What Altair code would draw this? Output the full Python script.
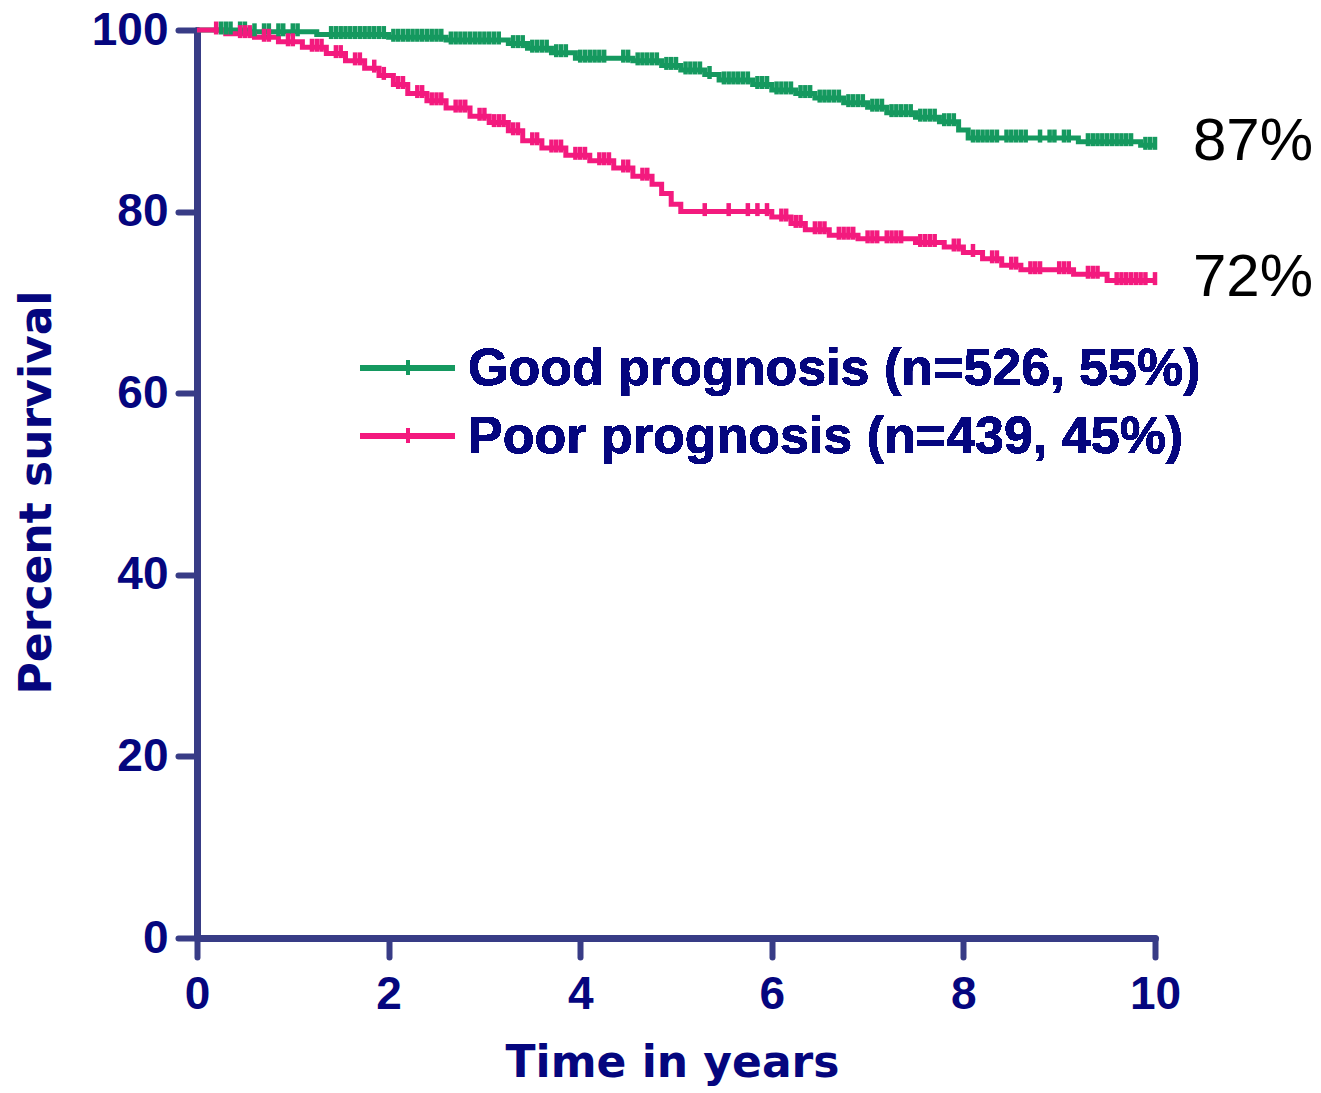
import altair as alt
import numpy as np
import pandas as pd

# ---- data -------------------------------------------------------------
GROUPS = ["Good prognosis", "Poor prognosis"]
GROUP_N = [526, 439]
GROUP_PCT = [55, 45]

# Kaplan-Meier step points (years, percent surviving after the step)
GOOD_T = [0.0, 0.55, 1.25, 2.0, 2.6, 3.25, 3.45, 3.7, 3.95, 4.55, 4.85, 5.05,
          5.3, 5.45, 5.8, 6.0, 6.25, 6.45, 6.75, 7.0, 7.2, 7.5, 7.75, 7.95,
          8.05, 9.2, 9.85, 10.0]
GOOD_S = [100.0, 99.8, 99.5, 99.2, 98.9, 98.5, 98.0, 97.5, 96.9, 96.6, 96.1, 95.6,
          95.1, 94.5, 94.0, 93.4, 93.0, 92.5, 92.0, 91.5, 90.9, 90.4, 89.9, 89.0,
          88.1, 87.7, 87.3, 87.3]

POOR_T = [0.0, 0.3, 0.6, 0.85, 1.1, 1.35, 1.55, 1.75, 1.9, 2.05, 2.2, 2.4, 2.6,
          2.85, 3.05, 3.25, 3.4, 3.6, 3.85, 4.1, 4.35, 4.55, 4.75, 4.85, 4.95,
          5.05, 6.0, 6.2, 6.35, 6.6, 6.9, 7.5, 7.8, 8.0, 8.2, 8.4, 8.6, 9.15,
          9.5, 10.0]
POOR_S = [100.0, 99.6, 99.2, 98.7, 98.1, 97.4, 96.6, 95.8, 95.0, 94.0, 93.0, 92.2,
          91.4, 90.5, 89.8, 88.9, 87.8, 87.0, 86.2, 85.6, 84.8, 83.9, 83.0, 82.0,
          80.8, 80.0, 79.4, 78.7, 78.0, 77.4, 77.0, 76.6, 76.1, 75.5, 74.8, 74.1,
          73.6, 73.1, 72.4, 72.4]

# censored observations (years)
GOOD_CENSOR = [0.25, 0.3, 0.35, 0.45, 0.5, 0.6, 0.7, 0.75, 0.85, 0.9, 1.0, 1.05,
               1.4, 1.45, 1.5, 1.55, 1.6, 1.65, 1.7, 1.75, 1.8, 1.85, 1.9, 1.95,
               2.05, 2.1, 2.15, 2.2, 2.25, 2.3, 2.35, 2.4, 2.45, 2.5, 2.55, 2.65,
               2.7, 2.75, 2.8, 2.85, 2.9, 2.95, 3.0, 3.05, 3.1, 3.15, 3.3, 3.35,
               3.4, 3.5, 3.55, 3.6, 3.65, 3.75, 3.8, 3.85, 4.0, 4.05, 4.1, 4.15,
               4.2, 4.25, 4.45, 4.5, 4.6, 4.65, 4.7, 4.75, 4.8, 4.9, 4.95, 5.0,
               5.1, 5.15, 5.2, 5.25, 5.35, 5.5, 5.55, 5.6, 5.65, 5.7, 5.75, 5.85,
               5.9, 5.95, 6.05, 6.1, 6.15, 6.2, 6.3, 6.35, 6.4, 6.5, 6.55, 6.6,
               6.65, 6.7, 6.8, 6.85, 6.9, 6.95, 7.05, 7.1, 7.15, 7.25, 7.3, 7.35,
               7.4, 7.45, 7.55, 7.6, 7.65, 7.7, 7.8, 7.85, 7.9, 8.1, 8.15, 8.2,
               8.25, 8.3, 8.35, 8.45, 8.5, 8.55, 8.6, 8.65, 8.8, 8.9, 8.95, 9.05,
               9.1, 9.3, 9.35, 9.4, 9.45, 9.5, 9.55, 9.6, 9.65, 9.7, 9.75, 9.9,
               9.95, 10.0]
POOR_CENSOR = [0.2, 0.45, 0.5, 0.55, 0.7, 0.75, 0.95, 1.0, 1.2, 1.25, 1.3, 1.45,
               1.5, 1.65, 1.7, 1.85, 1.95, 2.1, 2.15, 2.3, 2.35, 2.45, 2.5, 2.55,
               2.7, 2.75, 2.8, 2.95, 3.0, 3.1, 3.15, 3.2, 3.3, 3.35, 3.5, 3.55,
               3.7, 3.75, 3.8, 3.95, 4.0, 4.05, 4.2, 4.25, 4.3, 4.45, 4.5, 4.65,
               4.7, 5.3, 5.55, 5.75, 5.85, 5.95, 6.1, 6.15, 6.25, 6.3, 6.45, 6.5,
               6.55, 6.7, 6.75, 6.8, 6.85, 7.0, 7.05, 7.1, 7.2, 7.25, 7.3, 7.35,
               7.55, 7.6, 7.65, 7.7, 7.9, 7.95, 8.1, 8.3, 8.35, 8.5, 8.55, 8.7,
               8.75, 8.8, 9.0, 9.05, 9.1, 9.3, 9.35, 9.4, 9.6, 9.65, 9.7, 9.75,
               9.8, 9.85, 9.9, 10.0]

X_TICKS = [0, 2, 4, 6, 8, 10]
Y_TICKS = [0, 20, 40, 60, 80, 100]

# ---- styling ----------------------------------------------------------
GREEN = "#15995f"
PINK = "#f31a7e"
NAVY = "#05067e"
AXIS = "#383c86"
COLORS = [GREEN, PINK]

# ---- tables -----------------------------------------------------------
curves = pd.concat([
    pd.DataFrame({"t": GOOD_T, "s": GOOD_S, "group": GROUPS[0]}),
    pd.DataFrame({"t": POOR_T, "s": POOR_S, "group": GROUPS[1]}),
], ignore_index=True)


def step_value(times, surv, at):
    idx = np.searchsorted(np.asarray(times), np.asarray(at), side="right") - 1
    return np.asarray(surv)[idx]


censors = pd.concat([
    pd.DataFrame({"t": GOOD_CENSOR, "s": step_value(GOOD_T, GOOD_S, GOOD_CENSOR),
                  "group": GROUPS[0]}),
    pd.DataFrame({"t": POOR_CENSOR, "s": step_value(POOR_T, POOR_S, POOR_CENSOR),
                  "group": GROUPS[1]}),
], ignore_index=True)

ends = pd.DataFrame({
    "t": [GOOD_T[-1], POOR_T[-1]],
    "s": [GOOD_S[-1], POOR_S[-1]],
    "group": GROUPS,
})

x_scale = alt.Scale(domain=[0, 10], nice=False)
y_scale = alt.Scale(domain=[0, 100], nice=False)
color_scale = alt.Scale(domain=GROUPS, range=COLORS)

x_enc = alt.X("t:Q", scale=x_scale, axis=alt.Axis(
    values=X_TICKS, format="d", title="Time in years", labelPadding=51,
    labelBaseline="alphabetic", titleX=475, titleY=138,
    titleBaseline="alphabetic", titleAlign="center"))
y_enc = alt.Y("s:Q", scale=y_scale, axis=alt.Axis(
    values=Y_TICKS, format="d", title="Percent survival", labelPadding=10,
    labelBaseline="middle", titleAngle=270, titleX=-160, titleY=462,
    titleAlign="center", titleBaseline="middle"))
color_enc = alt.Color("group:N", scale=color_scale, legend=None)

lines = alt.Chart(curves).mark_line(
    interpolate="step-after", strokeWidth=5
).encode(x=x_enc, y=y_enc, color=color_enc, detail="group:N")

ticks = alt.Chart(censors).mark_tick(
    orient="vertical", size=13, thickness=4.5, yOffset=-2, opacity=1
).encode(x="t:Q", y="s:Q", color=color_enc)

end_labels = alt.Chart(ends).transform_calculate(
    lab="format(datum.s, '.0f') + '%'"
).mark_text(
    align="left", baseline="middle", dx=38, dy=-3, fontSize=60,
    font="Liberation Sans", color="black"
).encode(x="t:Q", y="s:Q", text="lab:N")

# ---- legend (drawn in pixel space, inside the plot) -----------------
legend_layers = []
for i, (g, n, p) in enumerate(zip(GROUPS, GROUP_N, GROUP_PCT)):
    row_y = 338 + 68 * i
    c = COLORS[i]
    legend_layers.append(
        alt.Chart(curves).mark_rule(strokeWidth=4.5, color=c).encode(
            x=alt.value(163), x2=alt.value(258), y=alt.value(row_y)))
    legend_layers.append(
        alt.Chart(curves).mark_rule(strokeWidth=3.5, color=c, strokeCap="round").encode(
            x=alt.value(211), y=alt.value(row_y - 6), y2=alt.value(row_y + 5)))
    legend_layers.append(
        alt.Chart(curves).mark_text(
            text=f"{g} (n={n}, {p}%)", align="left", baseline="middle",
            fontSize=52, font="Liberation Sans", fontWeight="bold", color=NAVY
        ).encode(x=alt.value(271), y=alt.value(row_y + 1)))

chart = alt.layer(lines, ticks, end_labels, *legend_layers).properties(
    width=958, height=908,
    autosize=alt.AutoSizeParams(type="none"),
    padding={"left": 197, "top": 30, "right": 166, "bottom": 155},
).configure_view(strokeWidth=0).configure_axis(
    grid=False,
    domainColor=AXIS, domainWidth=7, domainCap="round",
    tickColor=AXIS, tickWidth=6, tickCap="round", tickSize=19,
    labelFont="Liberation Sans", labelFontWeight="bold", labelFontSize=46,
    labelColor=NAVY, labelFlush=False, labelOverlap=False,
    titleFont="DejaVu Sans", titleFontWeight="bold", titleFontSize=44,
    titleColor=NAVY,
)

chart.save("out.html", embed_options={"renderer": "svg", "actions": False})
